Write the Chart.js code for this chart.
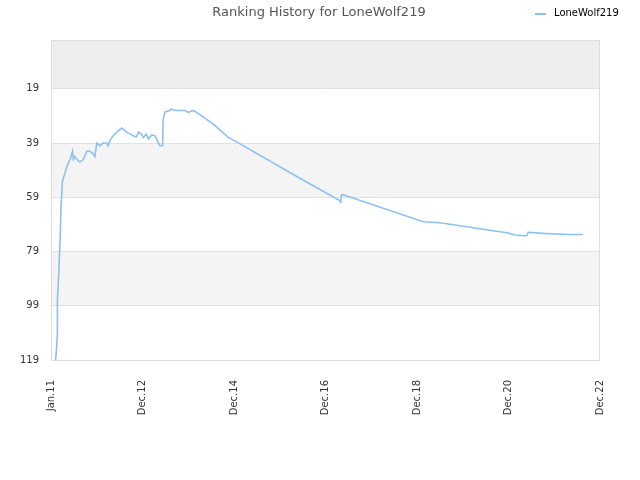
<!DOCTYPE html>
<html>
<head>
<meta charset="utf-8">
<script src="https://cdn.jsdelivr.net/npm/chart.js@4/dist/chart.umd.min.js"></script>
<style>
  body { margin: 0; background: #fff; }
</style>
</head>
<body>
<canvas id="myChart" width="640" height="480"></canvas>
<script>
// decimal years and rank
const dates = [2011.10, 2011.12, 2011.14, 2011.14, 2011.17, 2011.20, 2011.22, 2011.25, 2011.29, 2011.34,
  2011.39, 2011.43, 2011.47, 2011.49, 2011.52, 2011.56, 2011.63, 2011.71, 2011.78, 2011.85,
  2011.92, 2011.96, 2012.00, 2012.07, 2012.14, 2012.22, 2012.25, 2012.29, 2012.36, 2012.44,
  2012.51, 2012.55, 2012.65, 2012.84, 2012.87, 2012.91, 2012.98, 2013.02, 2013.08, 2013.13,
  2013.20, 2013.27, 2013.32, 2013.38, 2013.44, 2013.45, 2013.49, 2013.60, 2013.62, 2013.71,
  2013.93, 2014.00, 2014.11, 2014.18, 2014.55, 2014.88, 2015.00, 2016.44, 2017.32, 2017.33,
  2017.35, 2017.39, 2019.14, 2019.50, 2020.81, 2020.97, 2021.14, 2021.34, 2021.40, 2021.43,
  2021.75, 2022.32, 2022.63];
const ranks = [119, 115, 109, 97, 87, 74, 62.5, 53, 51, 48,
  46, 44.5, 42, 45, 44, 45, 46, 45, 42, 42,
  43, 44, 39, 40, 39, 39, 40, 38, 36.3, 35,
  34, 33.5, 35, 36.7, 36.7, 35, 35.7, 37, 35.7, 37.5,
  36, 36.3, 37.9, 40, 40, 30.4, 27.5, 27, 26.4, 27,
  27, 27.7, 27, 27.7, 32, 37, 38, 52, 60.3, 61.2,
  58.1, 58.1, 68, 68.4, 71.7, 72.1, 72.9, 73.2, 73.2, 71.9,
  72.3, 72.7, 72.7];
const yTicks = [19, 39, 59, 79, 99, 119];
const xTickValues = [2011, 2013, 2015, 2017, 2019, 2021, 2023];
const xTickLabels = ["Jan.11", "Dec.12", "Dec.14", "Dec.16", "Dec.18", "Dec.20", "Dec.22"];
const seriesName = "LoneWolf219";
const titleText = "Ranking History for LoneWolf219";

const lineColor = "#8cc0f4";
const bandEdges = [1, 19, 39, 59, 79, 99, 119];
const bandColors = ["#eeeeee", "#ffffff", "#f4f4f4", "#ffffff", "#f4f4f4", "#ffffff"];

const bands = {
    id: "bands",
    beforeDraw(chart) {
        const ctx = chart.ctx, a = chart.chartArea, y = chart.scales.y;
        ctx.save();
        for (let i = 0; i < bandColors.length; i++) {
            const y1 = y.getPixelForValue(bandEdges[i]);
            const y2 = y.getPixelForValue(bandEdges[i + 1]);
            ctx.fillStyle = bandColors[i];
            ctx.fillRect(a.left, y1, a.right - a.left, y2 - y1);
        }
        ctx.restore();
    },
    afterDraw(chart) {
        const ctx = chart.ctx, a = chart.chartArea;
        ctx.save();
        ctx.strokeStyle = "#dddddd";
        ctx.lineWidth = 1;
        ctx.strokeRect(a.left + 0.5, a.top + 0.5, a.right - a.left - 1, a.bottom - a.top);
        // title
        ctx.fillStyle = "#555555";
        ctx.font = "13px 'DejaVu Sans'";
        ctx.textAlign = "center";
        ctx.textBaseline = "middle";
        ctx.fillText(titleText, 319, 13);
        // legend
        ctx.strokeStyle = lineColor;
        ctx.lineWidth = 2;
        ctx.beginPath();
        ctx.moveTo(535, 14);
        ctx.lineTo(546, 14);
        ctx.stroke();
        ctx.fillStyle = "#000000";
        ctx.font = "10px 'DejaVu Sans'";
        ctx.textAlign = "left";
        ctx.fillText(seriesName, 554, 13);
        ctx.restore();
    }
};

new Chart(document.getElementById("myChart"), {
    type: "line",
    data: {
        datasets: [{
            label: seriesName,
            data: dates.map((d, i) => ({ x: d, y: ranks[i] })),
            borderColor: lineColor,
            borderWidth: 1.6,
            pointRadius: 0,
            tension: 0,
            fill: false
        }]
    },
    options: {
        responsive: false,
        animation: false,
        layout: { padding: { top: 40, right: 40, left: 0, bottom: 0 } },
        plugins: { legend: { display: false }, title: { display: false }, tooltip: { enabled: false } },
        scales: {
            x: {
                type: "linear",
                min: 2011,
                max: 2023,
                afterBuildTicks: s => { s.ticks = xTickValues.map(v => ({ value: v })); },
                afterFit: s => { s.height = 120; },
                grid: { display: false },
                border: { display: false },
                ticks: {
                    autoSkip: false,
                    minRotation: 90,
                    maxRotation: 90,
                    padding: 12,
                    color: "#333333",
                    font: { family: "DejaVu Sans", size: 10 },
                    callback: v => xTickLabels[xTickValues.indexOf(v)]
                }
            },
            y: {
                reverse: true,
                min: 1,
                max: 119,
                afterBuildTicks: s => { s.ticks = yTicks.map(v => ({ value: v })); },
                afterFit: s => { s.width = 51; },
                grid: { color: "#e1e1e1", drawTicks: false },
                border: { display: false },
                ticks: {
                    padding: 12,
                    color: "#333333",
                    font: { family: "DejaVu Sans", size: 10 }
                }
            }
        }
    },
    plugins: [bands]
});
</script>
</body>
</html>
